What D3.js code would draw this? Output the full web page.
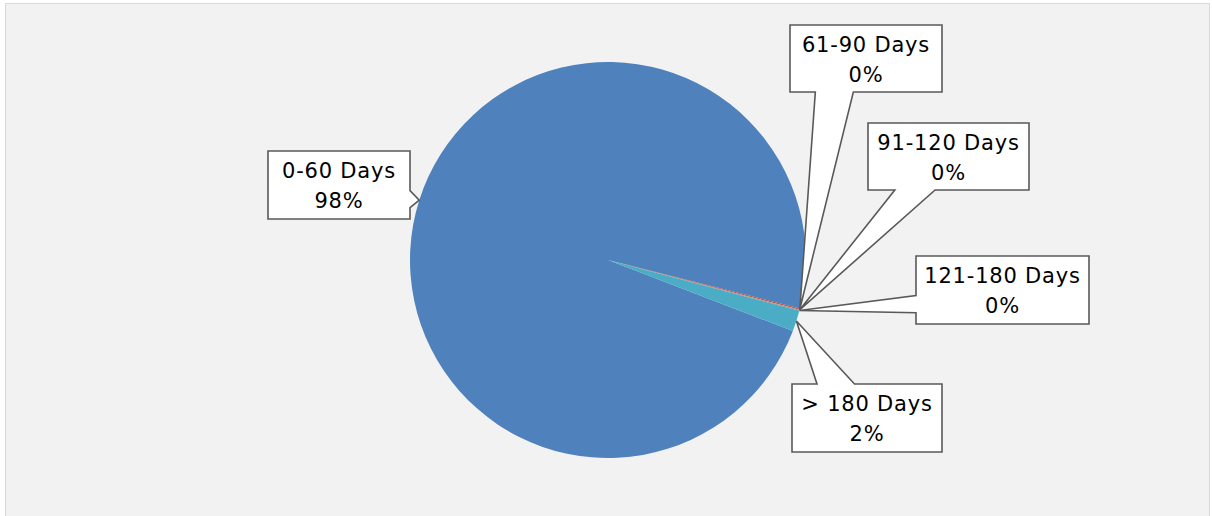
<!DOCTYPE html>
<html>

<head>
    <style>
        body { margin: 0; background: #ffffff; }
        .lbl { font-family: "DejaVu Sans", Verdana, sans-serif; font-size: 21px; fill: #000; letter-spacing: 0.8px; }
    </style>
    <script src="https://cdnjs.cloudflare.com/ajax/libs/d3/7.8.5/d3.min.js"></script>
    <title>Aging</title>
</head>

<body>
    <script>

        const width = 1212;
        const height = 516;

        // data
        const categories = ["0-60 Days", "61-90 Days", "91-120 Days", "121-180 Days", "> 180 Days"];
        const values = [98.1, 0.1, 0.05, 0.05, 1.7];
        const colors = ["#4f81bd", "#c0504d", "#9bbb59", "#8064a2", "#4bacc6"];

        // callout boxes (layout only)
        const boxes = [
            { x: 268, y: 151, w: 142, h: 68 },
            { x: 790, y: 25, w: 152, h: 67 },
            { x: 868, y: 123, w: 161, h: 67 },
            { x: 916, y: 256, w: 173, h: 68 },
            { x: 792, y: 384, w: 150, h: 68 }
        ];

        const cx = 608, cy = 260, r = 198;
        const startDeg = 111;

        const svg = d3.select("body").append("svg")
            .attr("width", width).attr("height", height);

        svg.append("rect")
            .attr("x", 5.5).attr("y", 3.5)
            .attr("width", 1204).attr("height", 520)
            .style("fill", "#f2f2f2")
            .style("stroke", "#d9d9d9");

        const total = d3.sum(values);
        const pie = d3.pie().sort(null)
            .startAngle(startDeg * Math.PI / 180)
            .endAngle(startDeg * Math.PI / 180 + 2 * Math.PI);
        const arcs = pie(values);
        const arc = d3.arc().innerRadius(0).outerRadius(r);

        const g = svg.append("g").attr("transform", `translate(${cx},${cy})`);
        g.selectAll("path.slice")
            .data(arcs)
            .enter()
            .append("path")
            .attr("class", "slice")
            .attr("d", arc)
            .style("fill", (d, i) => colors[i]);

        // wedge-rect callout like the office shape
        function callout(b, tx, ty) {
            const mx = b.x + b.w / 2, my = b.y + b.h / 2;
            const dx = tx - mx, dy = ty - my;
            const p = [];
            const horiz = Math.abs(dy) * b.w > Math.abs(dx) * b.h;
            const fx = dx > 0 ? [7, 10] : [2, 5];
            const fy = dy > 0 ? [7, 10] : [2, 5];
            const x1 = b.x + b.w * fx[0] / 12, x2 = b.x + b.w * fx[1] / 12;
            const y1 = b.y + b.h * fy[0] / 12, y2 = b.y + b.h * fy[1] / 12;
            p.push([b.x, b.y]);
            if (horiz && dy < 0) p.push([x1, b.y], [tx, ty], [x2, b.y]);
            p.push([b.x + b.w, b.y]);
            if (!horiz && dx > 0) p.push([b.x + b.w, y1], [tx, ty], [b.x + b.w, y2]);
            p.push([b.x + b.w, b.y + b.h]);
            if (horiz && dy > 0) p.push([x2, b.y + b.h], [tx, ty], [x1, b.y + b.h]);
            p.push([b.x, b.y + b.h]);
            if (!horiz && dx < 0) p.push([b.x, y2], [tx, ty], [b.x, y1]);
            return "M" + p.map(q => q.join(",")).join("L") + "Z";
        }

        const labels = svg.selectAll("g.label")
            .data(arcs)
            .enter()
            .append("g")
            .attr("class", "label");

        labels.append("path")
            .attr("d", (d, i) => {
                const a = (d.startAngle + d.endAngle) / 2;
                const tx = cx + Math.sin(a) * r;
                const ty = cy - Math.cos(a) * r;
                return callout(boxes[i], tx, ty);
            })
            .style("fill", "#ffffff")
            .style("stroke", "#595959")
            .style("stroke-width", 1.6)
            .style("stroke-linejoin", "miter");

        labels.append("text")
            .attr("class", "lbl")
            .attr("text-anchor", "middle")
            .attr("x", (d, i) => boxes[i].x + boxes[i].w / 2)
            .attr("y", (d, i) => boxes[i].y + 27)
            .text((d, i) => categories[i]);

        labels.append("text")
            .attr("class", "lbl")
            .attr("text-anchor", "middle")
            .attr("x", (d, i) => boxes[i].x + boxes[i].w / 2)
            .attr("y", (d, i) => boxes[i].y + 57)
            .text(d => Math.round(d.value / total * 100) + "%");

    </script>
</body>

</html>
